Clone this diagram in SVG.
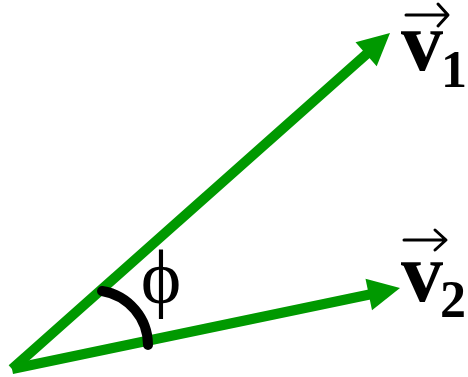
<svg xmlns="http://www.w3.org/2000/svg" width="468" height="377" viewBox="0 0 468 377">
<style>
.vec{stroke:#009900;stroke-width:10;fill:none;stroke-linecap:butt}
.head{fill:#009900;stroke:none}
.lbl{font-family:"Liberation Serif",serif;fill:#000}
.ov{stroke:#000;stroke-width:3;fill:none;stroke-linecap:round;stroke-linejoin:round}
</style>
<rect width="468" height="377" fill="#fff"/>
<g id="connectors">
<g id="v1-arrow">
<line class="vec" x1="12" y1="369" x2="370" y2="51"/>
<polygon class="head" points="390,33 376.7,66.3 355.5,42.3"/>
</g>
<g id="v2-arrow">
<line class="vec" x1="12" y1="369" x2="372" y2="294"/>
<polygon class="head" points="400,288 372,310.2 365.5,278.8"/>
</g>
</g>
<g id="angle">
<path d="M102,291 A55,55 0 0 1 148,345" stroke="#000" stroke-width="10" fill="none" stroke-linecap="round"/>
<text class="lbl" x="161" y="303" font-size="77" text-anchor="middle">ϕ</text>
</g>
<g id="label-v1">
<path class="ov" d="M406,15 H447 M438,4 L448,15 L438,26"/>
<text class="lbl" x="401" y="70" font-size="84" font-weight="bold">v</text>
<text class="lbl" x="441" y="87" font-size="52" font-weight="bold">1</text>
</g>
<g id="label-v2">
<path class="ov" d="M404,240 H445 M435,230 L446,240 L435,250"/>
<text class="lbl" x="401" y="301" font-size="84" font-weight="bold">v</text>
<text class="lbl" x="440" y="317" font-size="52" font-weight="bold">2</text>
</g>
</svg>
